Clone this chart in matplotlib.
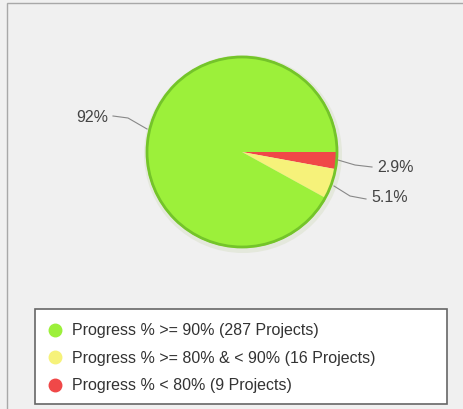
import matplotlib.pyplot as plt
from matplotlib.patches import Rectangle, Circle
from matplotlib.lines import Line2D

plt.rcParams['font.family'] = ['Liberation Sans', 'DejaVu Sans']

# data (drawn clockwise from 3 o'clock: red, yellow, green)
categories = ['Progress % < 80% (9 Projects)',
              'Progress % >= 80% & < 90% (16 Projects)',
              'Progress % >= 90% (287 Projects)']
projects = [9, 16, 287]
pct_labels = ['2.9%', '5.1%', '92%']
colors = ['#f04848', '#f6f27a', '#9cf03a']

W, H = 463, 409
fig = plt.figure(figsize=(W / 100, H / 100), dpi=100)
fig.patch.set_facecolor('#f0f0f0')
ax = fig.add_axes([0, 0, 1, 1])
ax.axis('off')

# outer frame (left and top border)
ax.add_patch(Rectangle((7, -20), W, H - 3 + 20, facecolor='none',
                       edgecolor='#a8a8a8', lw=1))

cx, cy, r = 242, H - 152, 96
ax.add_patch(Circle((cx + 1, cy - 2), r + 3, facecolor='#e4e8dc', edgecolor='none'))
ax.pie(projects, colors=colors, startangle=0, counterclock=False,
       center=(cx, cy), radius=r, wedgeprops=dict(edgecolor='none'))
ax.add_patch(Circle((cx, cy), r - 1, facecolor='none', edgecolor='#74c42a', lw=2))
ax.set_aspect('equal')
ax.set_xlim(0, W)
ax.set_ylim(0, H)

txt = dict(fontsize=11.5, color='#444444', va='center')
# 92% label
ax.plot([113, 128, 147], [H - 116, H - 118, H - 129], color='#888888', lw=0.8)
ax.text(108, H - 118, pct_labels[2], ha='right', **txt)
# 2.9% label
ax.plot([338, 355, 372], [H - 160, H - 165, H - 167], color='#888888', lw=0.8)
ax.text(377, H - 167, pct_labels[0], ha='left', **txt)
# 5.1% label
ax.plot([334, 350, 366], [H - 186, H - 196, H - 199], color='#888888', lw=0.8)
ax.text(371, H - 198, pct_labels[1], ha='left', **txt)

# legend box
ax.add_patch(Rectangle((35, H - 404), 412, 95, facecolor='white',
                       edgecolor='#666666', lw=1.2))
order = [2, 1, 0]
handles = [Line2D([], [], ls='none', marker='o', ms=9, mfc=colors[i],
                  mec=colors[i]) for i in order]
ax.legend(handles, [categories[i] for i in order], loc='upper left',
          bbox_to_anchor=(41 / W, (H - 317) / H), frameon=False,
          fontsize=11.5, labelcolor='#333333', handlelength=1.0,
          handletextpad=0.55, labelspacing=0.78, borderaxespad=0)

fig.savefig('out.png', dpi=100, facecolor=fig.get_facecolor())
